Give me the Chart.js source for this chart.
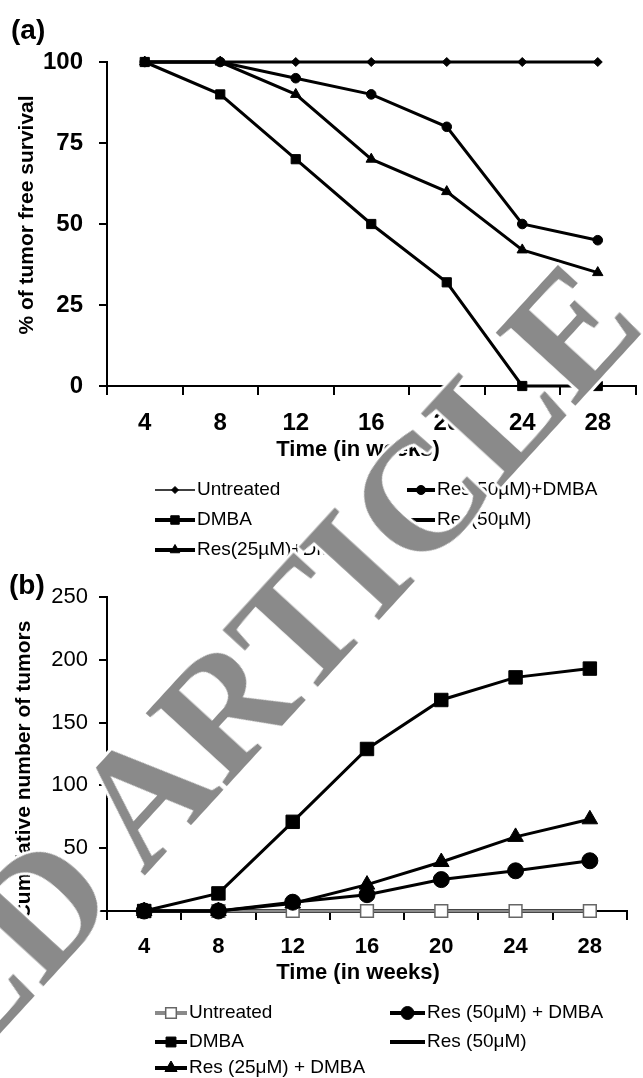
<!DOCTYPE html>
<html>
<head>
<meta charset="utf-8">
<script src="https://cdn.jsdelivr.net/npm/chart.js@4.4.1/dist/chart.umd.min.js"></script>
<style>
  html, body { margin: 0; padding: 0; background: #fff; }
  #wrap { position: relative; width: 643px; height: 1078px; overflow: hidden; }
  #chartA { position: absolute; left: 0; top: 0; }
  #chartB { position: absolute; left: 0; top: 565px; }
  #stamp {
    position: absolute; left: -6px; top: 958px;
    transform: translate(-50%, -50%) rotate(-47.5deg);
    font: bold 165px "Liberation Serif", "Times New Roman", serif;
    line-height: 1; white-space: nowrap; color: #8a8a8a; pointer-events: none;
    text-shadow: 3px 0 #fff, -3px 0 #fff, 0 3px #fff, 0 -3px #fff,
                 2px 2px #fff, -2px 2px #fff, 2px -2px #fff, -2px -2px #fff;
  }
</style>
</head>
<body>
<div id="wrap">
  <canvas id="chartA" width="643" height="565"></canvas>
  <canvas id="chartB" width="643" height="513"></canvas>
  <div id="stamp">RETRACTED ARTICLE</div>
</div>
<script>
// weeks after start
const weeks = ['4', '8', '12', '16', '20', '24', '28'];

// (a) % of tumor free survival
const survUntreated = [100, 100, 100, 100, 100, 100, 100];
const survDMBA      = [100, 90, 70, 50, 32, 0, 0];
const survRes25DMBA = [100, 100, 90, 70, 60, 42, 35];
const survRes50DMBA = [100, 100, 95, 90, 80, 50, 45];
const survRes50     = [100, 100, 100, 100, 100, 100, 100];
const survTicks = [0, 25, 50, 75, 100];

// (b) cumulative number of tumors
const tumUntreated = [0, 0, 0, 0, 0, 0, 0];
const tumDMBA      = [0, 14, 71, 129, 168, 186, 193];
const tumRes25DMBA = [0, 0, 6, 21, 39, 59, 73];
const tumRes50DMBA = [0, 0, 7, 13, 25, 32, 40];
const tumRes50     = [0, 0, 0, 0, 0, 0, 0];
const tumTicks = [0, 50, 100, 150, 200, 250];

Chart.defaults.font.family = '"Liberation Sans", Arial, sans-serif';
Chart.defaults.color = '#000';

const drawPoint = Chart.helpers.drawPoint;

// panel letter, axis titles and the two-column legend
const panelDecor = {
    id: 'panelDecor',
    afterDraw(chart, args, opts) {
        const ctx = chart.ctx;
        ctx.save();
        ctx.fillStyle = '#000';
        ctx.font = 'bold 28px "Liberation Sans", Arial, sans-serif';
        ctx.textAlign = 'left';
        ctx.textBaseline = 'alphabetic';
        ctx.fillText(opts.letter, opts.letterX, opts.letterY);

        ctx.font = opts.xTitleFont;
        ctx.textAlign = 'center';
        ctx.textBaseline = 'middle';
        ctx.fillText(opts.xTitle, opts.xTitleX, opts.xTitleY);

        ctx.save();
        ctx.font = opts.yTitleFont;
        ctx.translate(opts.yTitleX, opts.yTitleY);
        ctx.rotate(-Math.PI / 2);
        ctx.fillText(opts.yTitle, 0, 0);
        ctx.restore();

        const lg = opts.legend;
        chart.data.datasets.forEach((ds, i) => {
            const col = i < 3 ? 0 : 1;
            const row = i < 3 ? i : i - 3;
            const x0 = lg.cols[col];
            const len = lg.len[col];
            const y = lg.rows[row];
            ctx.strokeStyle = ds.borderColor;
            ctx.lineWidth = ds.legendLine;
            ctx.beginPath();
            ctx.moveTo(x0, y);
            ctx.lineTo(x0 + len, y);
            ctx.stroke();
            if (ds.legendRadius > 0) {
                ctx.fillStyle = ds.pointBackgroundColor;
                ctx.strokeStyle = ds.pointBorderColor;
                ctx.lineWidth = ds.pointBorderWidth;
                drawPoint(ctx, {
                    pointStyle: ds.pointStyle,
                    radius: ds.legendRadius,
                    rotation: 0,
                    borderWidth: ds.pointBorderWidth
                }, x0 + len / 2, y);
            }
            ctx.fillStyle = '#000';
            ctx.font = lg.font;
            ctx.textAlign = 'left';
            ctx.textBaseline = 'middle';
            ctx.fillText(ds.label, x0 + len + 2, y);
        });
        ctx.restore();
    }
};

function series(label, data, extra) {
    return Object.assign({
        label,
        data,
        borderColor: '#000',
        backgroundColor: '#000',
        pointBackgroundColor: '#000',
        pointBorderColor: '#000',
        pointBorderWidth: 1,
        borderWidth: 3,
        legendLine: 4,
        tension: 0,
        clip: false
    }, extra);
}

function xAxis(fontSize, height) {
    return {
        type: 'category',
        offset: true,
        grid: { offset: true, drawOnChartArea: false, tickLength: 9, color: '#000', lineWidth: 2 },
        border: { display: true, color: '#000', width: 2 },
        ticks: { font: { size: fontSize, weight: 'bold' }, padding: 14, maxRotation: 0, autoSkip: false },
        afterFit: s => { s.height = height; }
    };
}

function yAxis(max, tickValues, font, pad) {
    return {
        min: 0,
        max: max,
        afterBuildTicks: s => { s.ticks = tickValues.map(v => ({ value: v })); },
        grid: { drawOnChartArea: false, tickLength: 8, color: '#000', lineWidth: 2 },
        border: { display: true, color: '#000', width: 2 },
        ticks: { font: font, padding: pad },
        afterFit: s => { s.width = 107; }
    };
}

new Chart(document.getElementById('chartA'), {
    type: 'line',
    data: {
        labels: weeks,
        datasets: [
            series('Untreated', survUntreated, { borderWidth: 2, pointStyle: 'rectRot', pointRadius: 4.5, order: 4, legendLine: 1.5, legendRadius: 3.5 }),
            series('DMBA', survDMBA, { pointStyle: 'rect', pointRadius: 6.5, order: 1, legendRadius: 6 }),
            series('Res(25\u00b5M)+DMBA', survRes25DMBA, { pointStyle: 'triangle', pointRadius: 6, order: 3, legendRadius: 5.5 }),
            series('Res(50\u00b5M)+DMBA', survRes50DMBA, { pointStyle: 'circle', pointRadius: 4.8, order: 2, legendRadius: 4.5 }),
            series('Res(50\u00b5M)', survRes50, { pointRadius: 0, order: 5, legendRadius: 0 })
        ]
    },
    options: {
        responsive: false,
        animation: false,
        events: [],
        layout: { padding: { top: 62, right: 0, bottom: 0, left: 0 } },
        scales: {
            x: xAxis(24, 179),
            y: yAxis(100, survTicks, { size: 24, weight: 'bold' }, 16)
        },
        plugins: {
            legend: { display: false },
            tooltip: { enabled: false },
            panelDecor: {
                letter: '(a)', letterX: 11, letterY: 39,
                xTitle: 'Time (in weeks)', xTitleX: 358, xTitleY: 450,
                xTitleFont: 'bold 22px "Liberation Sans", Arial, sans-serif',
                yTitle: '% of tumor free survival', yTitleX: 27, yTitleY: 215,
                yTitleFont: 'bold 21px "Liberation Sans", Arial, sans-serif',
                legend: {
                    cols: [155, 407], len: [40, 28], rows: [490, 520, 550],
                    font: '19px "Liberation Sans", Arial, sans-serif'
                }
            }
        }
    },
    plugins: [panelDecor]
});

new Chart(document.getElementById('chartB'), {
    type: 'line',
    data: {
        labels: weeks,
        datasets: [
            series('Untreated', tumUntreated, {
                borderColor: '#8a8a8a', pointStyle: 'rect', pointRadius: 9,
                pointBackgroundColor: '#fff', pointBorderColor: '#666', pointBorderWidth: 1.5,
                order: 4, legendRadius: 7.5
            }),
            series('DMBA', tumDMBA, { pointStyle: 'rect', pointRadius: 9.5, order: 3, legendRadius: 7 }),
            series('Res (25\u03bcM) + DMBA', tumRes25DMBA, { pointStyle: 'triangle', pointRadius: 9, order: 2, legendRadius: 7 }),
            series('Res (50\u03bcM) + DMBA', tumRes50DMBA, { pointStyle: 'circle', pointRadius: 8, order: 1, legendRadius: 6.5 }),
            series('Res (50\u03bcM)', tumRes50, { borderWidth: 4, pointRadius: 0, order: 5, legendRadius: 0 })
        ]
    },
    options: {
        responsive: false,
        animation: false,
        events: [],
        layout: { padding: { top: 32, right: 16, bottom: 0, left: 0 } },
        scales: {
            x: xAxis(22, 167),
            y: yAxis(250, tumTicks, { size: 22 }, 11)
        },
        plugins: {
            legend: { display: false },
            tooltip: { enabled: false },
            panelDecor: {
                letter: '(b)', letterX: 9, letterY: 29,
                xTitle: 'Time (in weeks)', xTitleX: 358, xTitleY: 408,
                xTitleFont: 'bold 22px "Liberation Sans", Arial, sans-serif',
                yTitle: 'Cumulative number of tumors', yTitleX: 24, yTitleY: 205,
                yTitleFont: 'bold 21px "Liberation Sans", Arial, sans-serif',
                legend: {
                    cols: [155, 390], len: [32, 35], rows: [448, 477, 503],
                    font: '19px "Liberation Sans", Arial, sans-serif'
                }
            }
        }
    },
    plugins: [panelDecor]
});
</script>
</body>
</html>
